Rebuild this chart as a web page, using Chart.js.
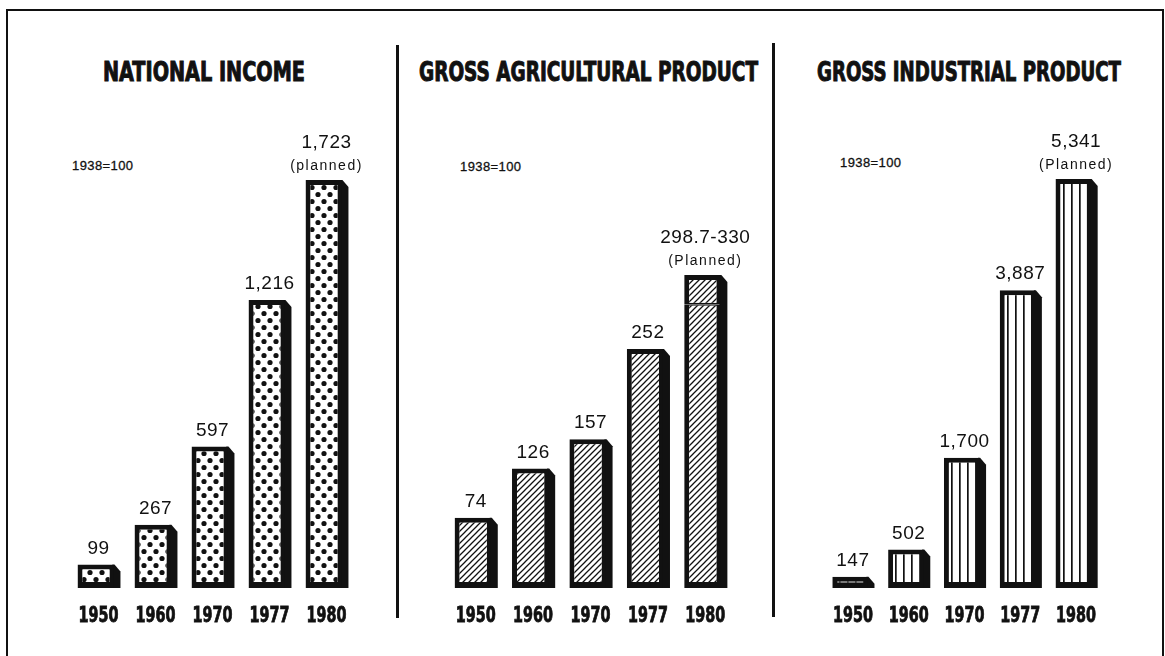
<!DOCTYPE html>
<html>
<head>
<meta charset="utf-8">
<script src="https://cdn.jsdelivr.net/npm/chart.js@4.4.1/dist/chart.umd.min.js"></script>
<style>
  html, body { margin: 0; padding: 0; background: #fff; }
  body { width: 1165px; height: 656px; position: relative; overflow: hidden; }
  #frame {
    position: absolute; left: 6px; top: 9px; width: 1154px; height: 645px;
    border: 2px solid #111;
  }
  .sep { position: absolute; width: 3px; background: #111; }
  .title {
    position: absolute; top: 57px; color: #111;
    font-family: "DejaVu Sans Condensed", "DejaVu Sans", sans-serif;
    font-weight: bold; font-size: 27px; line-height: 30px; white-space: nowrap;
    transform-origin: 0 50%;
    -webkit-text-stroke: 1px #111;
  }
  .base {
    position: absolute; color: #111; font-family: "Liberation Sans", Arial, sans-serif;
    font-size: 13px; letter-spacing: 0.4px; line-height: 14px;
    -webkit-text-stroke: 0.3px #111;
  }
  canvas { position: absolute; }
</style>
</head>
<body>
<div id="frame"></div>
<div class="sep" style="left:396px; top:45px; height:573px;"></div>
<div class="sep" style="left:772px; top:43px; height:574px;"></div>

<div class="title" data-left="103" data-width="202">NATIONAL INCOME</div>
<div class="title" data-left="419" data-width="339">GROSS AGRICULTURAL PRODUCT</div>
<div class="title" data-left="817" data-width="304">GROSS INDUSTRIAL PRODUCT</div>

<div class="base" style="left:72px; top:159px;">1938=100</div>
<div class="base" style="left:460px; top:160px;">1938=100</div>
<div class="base" style="left:840px; top:156px;">1938=100</div>

<canvas id="incomeChart" width="388" height="540" style="left:9px; top:100px;"></canvas>
<canvas id="agriChart" width="374" height="540" style="left:399px; top:100px;"></canvas>
<canvas id="industryChart" width="386" height="540" style="left:775px; top:100px;"></canvas>

<script>
// Data (index numbers, 1938 = 100)
const YEARS = ['1950', '1960', '1970', '1977', '1980'];

const incomeValues = [99, 267, 597, 1216, 1723];
const incomeLabels = ['99', '267', '597', '1,216', '1,723'];
const incomeNote = '(planned)';

const agriValues = [74, 126, 157, 252, 298.7];
const agriPlannedRange = [null, null, null, null, [298.7, 330]];
const agriLabels = ['74', '126', '157', '252', '298.7-330'];
const agriNote = '(Planned)';

const industryValues = [147, 502, 1700, 3887, 5341];
const industryLabels = ['147', '502', '1,700', '3,887', '5,341'];
const industryNote = '(Planned)';

const INK = '#111';
const CONDENSED = '"DejaVu Sans Condensed", "DejaVu Sans", sans-serif';

// squeeze the heavy titles to the narrow width of the original lettering
document.querySelectorAll('.title').forEach(el => {
  const natural = el.getBoundingClientRect().width;
  el.style.left = el.dataset.left + 'px';
  el.style.transform = 'scaleX(' + (el.dataset.width / natural) + ')';
});

// Fill patterns for the three panels
function makePattern(w, h, draw) {
  const c = document.createElement('canvas');
  c.width = w;
  c.height = h;
  const g = c.getContext('2d');
  g.fillStyle = '#fff';
  g.fillRect(0, 0, w, h);
  g.fillStyle = INK;
  g.strokeStyle = INK;
  draw(g);
  return g.createPattern(c, 'repeat');
}

const dotPattern = makePattern(12, 14, g => {
  [[3, 3.5], [9, 10.5]].forEach(([x, y]) => {
    g.beginPath();
    g.arc(x, y, 2.6, 0, Math.PI * 2);
    g.fill();
  });
});

const hatchPattern = makePattern(6, 6, g => {
  g.lineWidth = 1.3;
  g.beginPath();
  g.moveTo(-1, 7); g.lineTo(7, -1);
  g.moveTo(-1, 1); g.lineTo(1, -1);
  g.moveTo(5, 7); g.lineTo(7, 5);
  g.stroke();
});

const stripePattern = makePattern(8, 8, g => {
  g.fillRect(0, 0, 1.7, 8);
});

function collectTops(chart) {
  const tops = [];
  chart.data.datasets.forEach((ds, di) => {
    chart.getDatasetMeta(di).data.forEach((el, i) => {
      if (ds.data[i] === null || ds.data[i] === undefined) return;
      const p = el.getProps(['x', 'y', 'base', 'width'], true);
      const top = Math.min(p.y, p.base);
      const base = Math.max(p.y, p.base);
      if (!tops[i]) {
        tops[i] = { x: p.x, width: p.width, top, base };
      } else {
        tops[i].top = Math.min(tops[i].top, top);
        tops[i].base = Math.max(tops[i].base, base);
      }
    });
  });
  return tops;
}

// Drop shadow on the right side, value labels above the bars, year labels below
const barDecor = {
  id: 'barDecor',
  beforeDatasetsDraw(chart) {
    const ctx = chart.ctx;
    ctx.save();
    ctx.fillStyle = INK;
    collectTops(chart).forEach(t => {
      if (!t) return;
      const right = t.x + t.width / 2;
      ctx.beginPath();
      ctx.moveTo(right - 1, t.top);
      ctx.lineTo(right + 1, t.top);
      ctx.lineTo(right + 7, t.top + 7);
      ctx.lineTo(right + 7, t.base);
      ctx.lineTo(right - 1, t.base);
      ctx.closePath();
      ctx.fill();
    });
    ctx.restore();
  },
  afterDatasetsDraw(chart, args, opts) {
    const ctx = chart.ctx;
    const tops = collectTops(chart);
    ctx.save();
    ctx.fillStyle = INK;
    ctx.textAlign = 'center';
    ctx.textBaseline = 'alphabetic';
    tops.forEach((t, i) => {
      if (!t) return;
      const hasNote = i === tops.length - 1 && opts.note;
      ctx.font = '19px "Liberation Sans", Arial, sans-serif';
      ctx.letterSpacing = '0.5px';
      ctx.fillText(opts.labels[i], t.x + 3, t.top - (hasNote ? 32 : 11));
      if (hasNote) {
        ctx.font = '14px "Liberation Sans", Arial, sans-serif';
        ctx.letterSpacing = '1.5px';
        ctx.fillText(opts.note, t.x + 3, t.top - 10);
      }
    });

    // year labels, from the category scale
    const xScale = chart.scales.x;
    ctx.font = 'bold 21px ' + CONDENSED;
    ctx.letterSpacing = '0px';
    ctx.textBaseline = 'middle';
    ctx.strokeStyle = INK;
    ctx.lineWidth = 0.8;
    chart.data.labels.forEach((label, i) => {
      ctx.save();
      ctx.translate(xScale.getPixelForValue(i) + 3, chart.chartArea.bottom + 29);
      ctx.scale(0.76, 1);
      ctx.fillText(label, 0, 0);
      ctx.strokeText(label, 0, 0);
      ctx.restore();
    });
    ctx.restore();
  }
};

function makePanel(canvasId, datasets, yMax, labels, note, padding) {
  return new Chart(document.getElementById(canvasId), {
    type: 'bar',
    data: { labels: YEARS, datasets },
    options: {
      responsive: false,
      animation: false,
      devicePixelRatio: 1,
      layout: { padding },
      datasets: {
        bar: {
          grouped: false,
          categoryPercentage: 1,
          barPercentage: 0.63,
          borderColor: INK,
          borderWidth: { top: 5, left: 5, right: 4, bottom: 6 },
          borderSkipped: false,
        }
      },
      plugins: {
        legend: { display: false },
        tooltip: { enabled: false },
        barDecor: { labels, note },
      },
      scales: {
        x: {
          grid: { display: false, drawTicks: false },
          border: { display: false },
          ticks: { display: false },
        },
        y: { display: false, min: 0, max: yMax },
      },
    },
    plugins: [barDecor],
  });
}

makePanel('incomeChart', [
  { data: incomeValues, backgroundColor: dotPattern },
], 1934, incomeLabels, incomeNote, { left: 58, right: 45, top: 30, bottom: 52 });

makePanel('agriChart', [
  {
    data: agriValues,
    backgroundColor: hatchPattern,
    borderWidth: ctx => ctx.dataIndex === 4
      ? { top: 1, left: 5, right: 4, bottom: 6 }
      : { top: 5, left: 5, right: 4, bottom: 6 },
  },
  {
    data: agriPlannedRange,
    backgroundColor: hatchPattern,
    borderWidth: { top: 5, left: 5, right: 4, bottom: 2 },
  },
], 483, agriLabels, agriNote, { left: 45, right: 42, top: 30, bottom: 52 });

makePanel('industryChart', [
  { data: industryValues, backgroundColor: stripePattern },
], 5981, industryLabels, industryNote, { left: 47, right: 60, top: 30, bottom: 52 });
</script>
</body>
</html>
